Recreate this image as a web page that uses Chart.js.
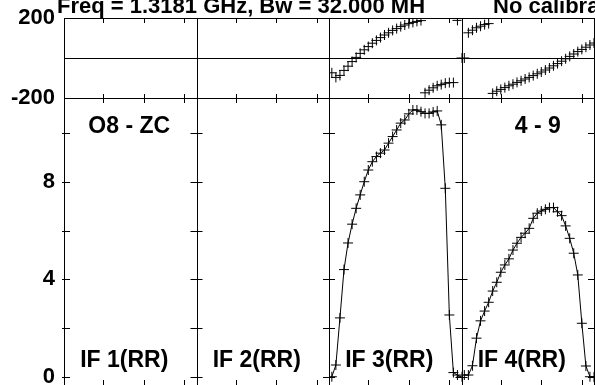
<!DOCTYPE html>
<html>
<head>
<meta charset="utf-8">
<script src="https://cdn.jsdelivr.net/npm/chart.js@4/dist/chart.umd.min.js"></script>
<style>
html, body { margin: 0; padding: 0; background: #fff; overflow: hidden; }
#wrap { position: absolute; left: 0; top: 0; width: 600px; height: 392px; }
</style>
</head>
<body>
<div id="wrap"><canvas id="myChart" width="600" height="392"></canvas></div>
<script>
// canales (mismo eje para cada IF)
var channels = [1,2,3,4,5,6,7,8,9,10,11,12,13,14,15,16,17,18,19,20,21,22,23,24,25,26,27,28,29,30,31,32,33];

// IF 3 y IF 4 (IF 1 e IF 2 vacios)
var if3Phase = [-74,-97,-87,-62,-41,-18,3,23,41,57,74,88,102,115,126,138,147,157,165,172,178,183,187,
                -174,-161,-149,-139,-133,-126,-123,-123,188,0];
var if4Phase = [0,126,139,151,159,167,172,-177,-166,-157,-148,-139,-131,-122,-114,-105,-97,-88,-79,-70,
                -60,-50,-39,-28,-16,-4,8,20,32,43,54,65,75];
var if3Amp = [0.01,0.49,2.42,4.40,5.49,6.26,6.91,7.46,8.00,8.48,8.82,9.03,9.17,9.30,9.58,9.85,10.12,10.40,
              10.53,10.78,10.94,10.94,10.87,10.80,10.80,10.86,10.90,10.33,7.73,2.54,0.18,0.08,0.01];
var if4Amp = [0.08,0.08,0.46,1.59,2.30,2.70,3.06,3.52,3.88,4.29,4.59,4.84,5.20,5.48,5.72,5.89,6.09,6.50,
              6.71,6.80,6.87,6.94,6.94,6.77,6.61,6.19,5.68,5.07,4.18,2.20,0.45,0.01,0.0];

// ticks y etiquetas
var panelNames = ['IF 1(RR)', 'IF 2(RR)', 'IF 3(RR)', 'IF 4(RR)'];
var phaseLabels = [-200, 200];
var ampLabels = [0, 4, 8];
var ampTickMarks = [0, 2, 4, 6, 8, 10];
var chanTicks = [10, 20, 30];
var titleText = 'Freq = 1.3181 GHz, Bw = 32.000 MH';
var titleText2 = 'No calibration';
var baseline1 = 'O8 - ZC';
var baseline2 = '4 - 9';

var FAMILY = "'Liberation Sans', Arial, sans-serif";
var FONT = 'bold 22px ' + FAMILY;
var FONT_PANEL = 'bold 23px ' + FAMILY;

function pts(xs, ys) {
  return xs.map(function (c, i) { return { x: c, y: ys[i] }; });
}

function sinPadding(s) {
  s.paddingTop = 0; s.paddingBottom = 0; s.paddingLeft = 0; s.paddingRight = 0;
}

function chanAxis() {
  return {
    type: 'linear', position: 'bottom', stack: 'canal', stackWeight: 1,
    min: 0.3, max: 33.0,
    ticks: { display: false },
    grid: { display: false, drawTicks: false },
    border: { display: false },
    afterFit: function (s) { s.height = 0; sinPadding(s); }
  };
}

var marcos = {
  id: 'marcos',
  beforeDatasetsDraw: function (chart) {
    var ctx = chart.ctx;
    var s = chart.scales;
    var xs = [s.x1, s.x2, s.x3, s.x4];
    var yPh = s.yPh, yAmp = s.yAmp;
    var top = yPh.top, mid = yPh.bottom, bot = yAmp.bottom;
    var left = xs[0].left, right = xs[3].right;
    ctx.save();
    ctx.strokeStyle = '#000';
    ctx.lineWidth = 1;
    ctx.beginPath();
    // lineas horizontales
    [top, yPh.getPixelForValue(0), mid, bot].forEach(function (y) {
      y = Math.round(y) + 0.5;
      ctx.moveTo(left, y); ctx.lineTo(right, y);
    });
    // divisiones verticales
    var divs = xs.map(function (a) { return a.left; }).concat([right]);
    divs.forEach(function (x) {
      x = Math.round(x) + 0.5;
      ctx.moveTo(x, top); ctx.lineTo(x, bot);
    });
    // marcas de amplitud
    ampTickMarks.forEach(function (v) {
      var y = Math.round(yAmp.getPixelForValue(v)) + 0.5;
      divs.forEach(function (x, i) {
        ctx.moveTo(x - (i == 0 ? 2 : 6), y); ctx.lineTo(x + 6, y);
      });
    });
    // marcas de canal
    xs.forEach(function (a) {
      chanTicks.forEach(function (c) {
        var x = Math.round(a.getPixelForValue(c)) + 0.5;
        ctx.moveTo(x, top); ctx.lineTo(x, top + 5);
        ctx.moveTo(x, mid - 4); ctx.lineTo(x, mid + 5);
        ctx.moveTo(x, bot - 6); ctx.lineTo(x, bot);
      });
    });
    ctx.stroke();
    ctx.restore();
  },
  afterDraw: function (chart) {
    var ctx = chart.ctx;
    var s = chart.scales;
    var xs = [s.x1, s.x2, s.x3, s.x4];
    ctx.save();
    ctx.fillStyle = '#000';
    ctx.font = FONT;
    ctx.textBaseline = 'alphabetic';
    ctx.textAlign = 'left';
    ctx.fillText(titleText, 57, 13);
    ctx.fillText(titleText2, 493, 13);
    ctx.font = FONT_PANEL;
    ctx.textAlign = 'center';
    xs.forEach(function (a, i) {
      ctx.fillText(panelNames[i], (a.left + a.right) / 2 - 6, s.yAmp.bottom - 19);
    });
    ctx.fillText(baseline1, (xs[0].left + xs[0].right) / 2 - 1, s.yAmp.top + 35);
    ctx.fillText(baseline2, (xs[3].left + xs[3].right) / 2 + 10, s.yAmp.top + 35);
    ctx.restore();
  }
};

var ctx = document.getElementById('myChart').getContext('2d');
var myChart = new Chart(ctx, {
  type: 'scatter',
  data: {
    datasets: [
      { label: 'IF 3 fase', data: pts(channels, if3Phase), xAxisID: 'x3', yAxisID: 'yPh', showLine: false },
      { label: 'IF 4 fase', data: pts(channels, if4Phase), xAxisID: 'x4', yAxisID: 'yPh', showLine: false },
      { label: 'IF 3 amp', data: pts(channels, if3Amp), xAxisID: 'x3', yAxisID: 'yAmp', showLine: true },
      { label: 'IF 4 amp', data: pts(channels, if4Amp), xAxisID: 'x4', yAxisID: 'yAmp', showLine: true }
    ]
  },
  options: {
    responsive: false,
    animation: false,
    devicePixelRatio: 1,
    layout: { padding: { left: 0, right: 4, top: 18, bottom: 6 } },
    elements: {
      point: { pointStyle: 'cross', radius: 5, borderWidth: 1, borderColor: '#000', backgroundColor: '#000' },
      line: { borderColor: '#000', borderWidth: 1, tension: 0 }
    },
    plugins: { legend: { display: false }, tooltip: { enabled: false }, title: { display: false } },
    scales: {
      x1: chanAxis(), x2: chanAxis(), x3: chanAxis(), x4: chanAxis(),
      yAmp: {
        type: 'linear', position: 'left', stack: 'fila', stackWeight: 288,
        min: -0.37, max: 11.43,
        afterBuildTicks: function (s) { s.ticks = ampLabels.map(function (v) { return { value: v }; }); },
        ticks: { color: '#000', padding: 9, font: { family: FAMILY, size: 22, weight: 'bold' },
                 callback: function (v) { return String(v); } },
        grid: { display: false, drawTicks: false },
        border: { display: false },
        afterFit: function (s) { s.width = 64; sinPadding(s); }
      },
      yPh: {
        type: 'linear', position: 'left', stack: 'fila', stackWeight: 80,
        min: -200, max: 200,
        afterBuildTicks: function (s) { s.ticks = phaseLabels.map(function (v) { return { value: v }; }); },
        ticks: { color: '#000', padding: 9, font: { family: FAMILY, size: 22, weight: 'bold' },
                 callback: function (v) { return String(v); } },
        grid: { display: false, drawTicks: false },
        border: { display: false },
        afterFit: function (s) { s.width = 64; sinPadding(s); }
      }
    }
  },
  plugins: [marcos]
});
</script>
</body>
</html>
